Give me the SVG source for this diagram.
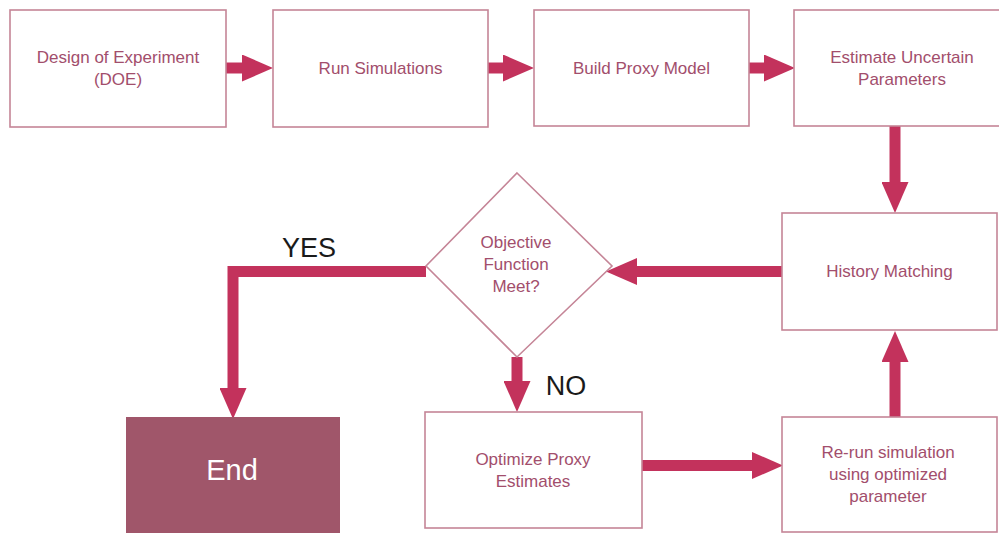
<svg xmlns="http://www.w3.org/2000/svg" width="999" height="534" viewBox="0 0 999 534">
<defs>
<style>
.box{fill:#fff;stroke:#c58597;stroke-width:1.6}
.lbl{font-family:"Liberation Sans",Arial,sans-serif;font-size:17px;fill:#a24e6c;text-anchor:middle}
.big{font-family:"Liberation Sans",Arial,sans-serif;font-size:27px;fill:#1a1a1a;text-anchor:middle}
.conn{fill:none;stroke:#c3325c;stroke-width:11;stroke-linejoin:miter;stroke-linecap:butt}
</style>
<marker id="ah" viewBox="0 0 31 27" markerWidth="31" markerHeight="27" refX="0" refY="13.5" orient="auto" markerUnits="userSpaceOnUse">
<path d="M0,0 L31,13.5 L0,27 z" fill="#c3325c"/>
</marker>
</defs>
<rect width="999" height="534" fill="#fff"/>
<g id="connectors">
<path class="conn" d="M226,68 H242" marker-end="url(#ah)"/>
<path class="conn" d="M488,68 H503" marker-end="url(#ah)"/>
<path class="conn" d="M749,68 H764" marker-end="url(#ah)"/>
<path class="conn" d="M895,126 V182" marker-end="url(#ah)"/>
<path class="conn" d="M782,271.5 H637" marker-end="url(#ah)"/>
<path class="conn" d="M426,271.5 H233 V388" marker-end="url(#ah)"/>
<path class="conn" d="M517,357 V381" marker-end="url(#ah)"/>
<path class="conn" d="M642,465.5 H752" marker-end="url(#ah)"/>
<path class="conn" d="M895,417 V362" marker-end="url(#ah)"/>
<text class="big" x="309" y="257">YES</text>
<text class="big" x="566" y="395">NO</text>
</g>
<g id="doe">
<rect class="box" x="10" y="10" width="216" height="117"/>
<text class="lbl" x="118" y="63">Design of Experiment</text>
<text class="lbl" x="118" y="85">(DOE)</text>
</g>
<g id="run-sim">
<rect class="box" x="273" y="10" width="215" height="117"/>
<text class="lbl" x="380.5" y="74">Run Simulations</text>
</g>
<g id="proxy">
<rect class="box" x="534" y="10" width="215" height="116"/>
<text class="lbl" x="641.5" y="74">Build Proxy Model</text>
</g>
<g id="estimate">
<rect class="box" x="794" y="10" width="216" height="116"/>
<text class="lbl" x="902" y="63">Estimate Uncertain</text>
<text class="lbl" x="902" y="85">Parameters</text>
</g>
<g id="history">
<rect class="box" x="782" y="213" width="215" height="117"/>
<text class="lbl" x="889.5" y="277">History Matching</text>
</g>
<g id="objective">
<polygon class="box" points="517,173 612,266 517,357 426,266"/>
<text class="lbl" x="516" y="248">Objective</text>
<text class="lbl" x="516" y="270">Function</text>
<text class="lbl" x="516" y="292">Meet?</text>
</g>
<g id="end">
<rect x="126" y="417" width="214" height="116" fill="#a0566a"/>
<text x="232" y="480" font-family="'Liberation Sans',Arial,sans-serif" font-size="29" fill="#fff" text-anchor="middle">End</text>
</g>
<g id="optimize">
<rect class="box" x="425" y="412" width="217" height="116"/>
<text class="lbl" x="533" y="465">Optimize Proxy</text>
<text class="lbl" x="533" y="487">Estimates</text>
</g>
<g id="rerun">
<rect class="box" x="782" y="417" width="215" height="115"/>
<text class="lbl" x="888" y="458">Re-run simulation</text>
<text class="lbl" x="888" y="480">using optimized</text>
<text class="lbl" x="888" y="502">parameter</text>
</g>
</svg>
